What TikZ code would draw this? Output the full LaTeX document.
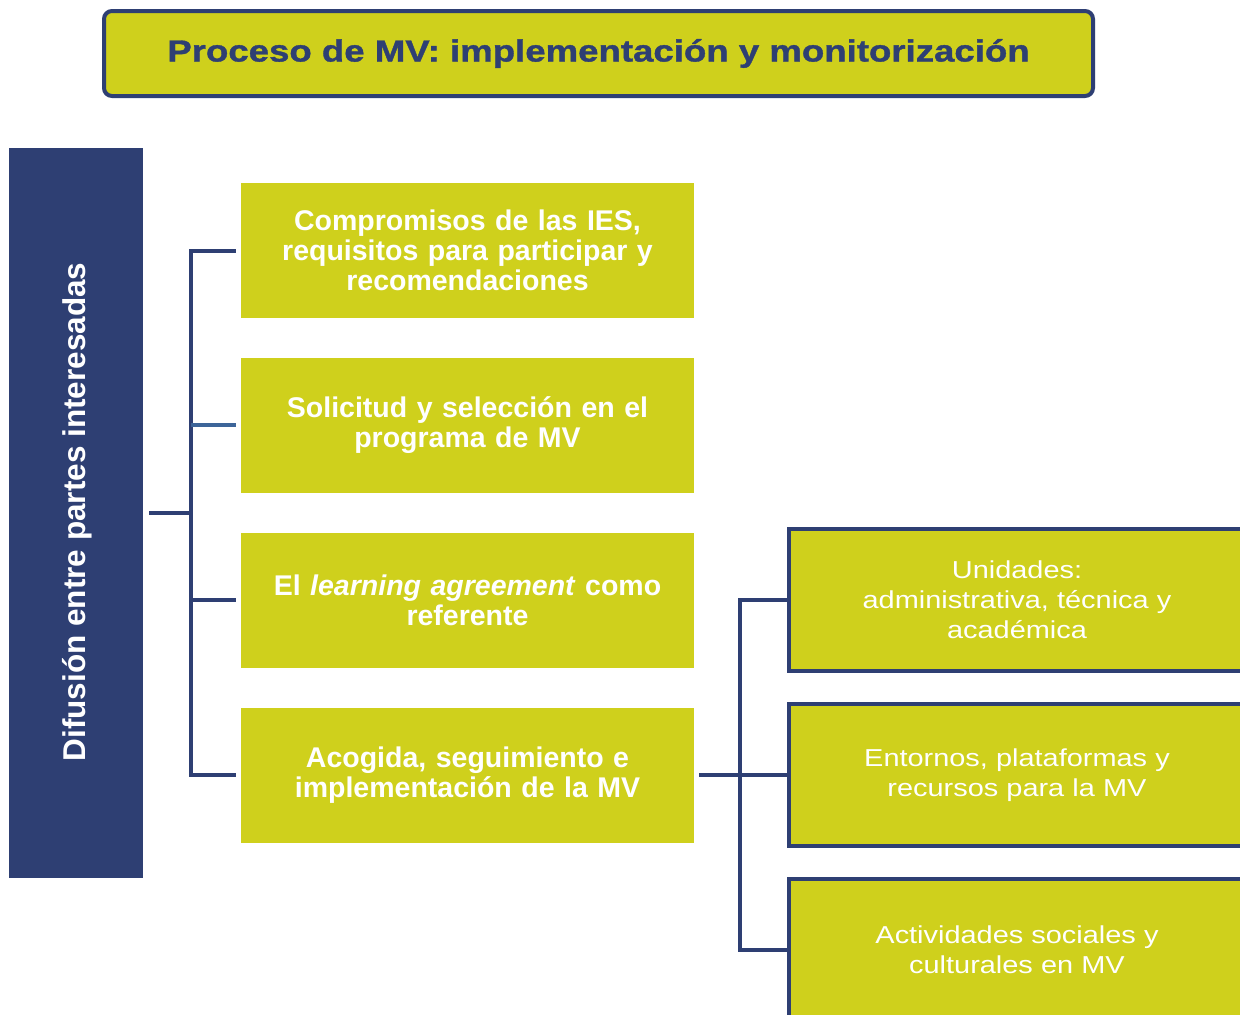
\documentclass[tikz,border=0pt]{standalone}
\usepackage{fontspec}
\setmainfont{Liberation Sans}
\newfontfamily\titlefont[FakeBold=1.2,FakeStretch=1.2]{Liberation Sans Bold}
\newfontfamily\widefont[FakeStretch=1.18]{Liberation Sans}
\definecolor{olive}{HTML}{CFD01C}
\definecolor{navy}{HTML}{2E3F73}
\definecolor{lblue}{HTML}{3D6599}
\begin{document}
\begin{tikzpicture}[x=1pt,y=-1pt,
  conn/.style={draw=navy,line width=4pt},
  midbox/.style={fill=olive,minimum width=453pt,minimum height=135pt,inner sep=0pt,text=white,font=\fontsize{28.5}{30}\selectfont\bfseries,align=center,text width=445pt},
  rbox/.style={fill=olive,draw=navy,line width=4pt,minimum width=456pt,minimum height=142pt,inner sep=0pt,text=white,font=\widefont\fontsize{24.5}{30}\selectfont,align=center,text width=445pt},
  titlebox/.style={fill=olive,draw=navy,line width=4pt,rounded corners=8pt,minimum width=989pt,minimum height=85pt,inner sep=0pt,text=navy,font=\titlefont\fontsize{30.5}{36}\selectfont},
  barbox/.style={fill=navy,minimum width=134pt,minimum height=730pt,inner sep=0pt}]
\useasboundingbox (0,0) rectangle (1240,1015);
\clip (0,0) rectangle (1240,1015);
\fill[white] (0,0) rectangle (1240,1015);
\node[titlebox] (title) at (598.5,53.5) {Proceso de MV: implementación y monitorización};
\node[barbox] (bar) at (76,513) {};
\node[rotate=90,text=white,font=\fontsize{31.5}{30}\selectfont\bfseries] (bartext) at (77,512) {Difusión entre partes interesadas};
\node[midbox] (m1) at (467.5,250.5) {Compromisos de las IES,\\requisitos para participar y\\recomendaciones};
\node[midbox] (m2) at (467.5,425) {Solicitud y selección en el\\programa de MV};
\node[midbox] (m3) at (467.5,600) {El \textit{learning agreement} como\\referente};
\node[midbox] (m4) at (467.5,775) {Acogida, seguimiento e\\implementación de la MV};
\node[rbox] (r1) at (1017,600) {Unidades:\\administrativa, técnica y\\académica};
\node[rbox] (r2) at (1017,775) {Entornos, plataformas y\\recursos para la MV};
\node[rbox] (r3) at (1017,950) {Actividades sociales y\\culturales en MV};
\coordinate (trunk) at ([xshift=-50pt]m1.west);
\draw[conn] ([xshift=-5pt]m1.west) -- (trunk) -- (trunk |- m4.west) -- ([xshift=-5pt]m4.west);
\draw[conn] ([xshift=-5pt]m3.west) -- (trunk |- m3.west);
\draw[conn,draw=lblue] ([xshift=-5pt]m2.west) -- (trunk |- m2.west);
\draw[conn] ([xshift=6pt]bar.east) -- (trunk |- bar.east);
\coordinate (rtrunk) at ([xshift=-47pt]r1.west);
\draw[conn] (r1.west) -- (rtrunk) -- (rtrunk |- r3.west) -- (r3.west);
\draw[conn] ([xshift=5pt]m4.east) -- (r2.west);
\end{tikzpicture}
\end{document}
